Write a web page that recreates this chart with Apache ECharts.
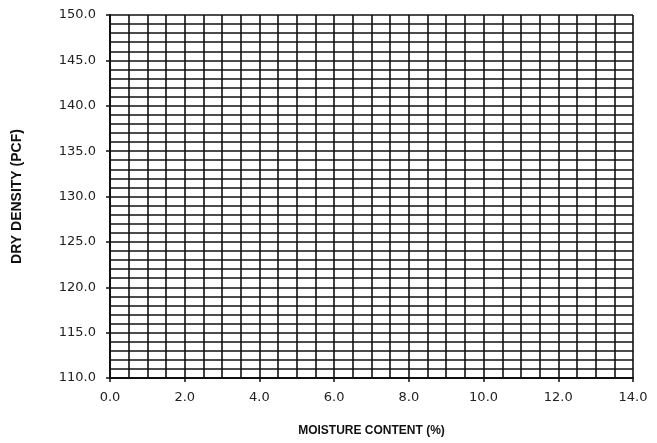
<!DOCTYPE html>
<html>
<head>
<meta charset="utf-8">
<script src="https://cdn.jsdelivr.net/npm/echarts@6/dist/echarts.min.js"></script>
<style>
  html, body { margin: 0; padding: 0; background: #fff; }
  #chart { width: 657px; height: 443px; }
</style>
</head>
<body>
<div id="chart"></div>
<script>
// axis ranges (blank compaction grid, no points plotted)
const moistureRange = [0, 14];      // %
const moistureStep = 2;             // labelled every 2.0, grid every 0.5
const densityRange = [110, 150];    // pcf
const densityStep = 5;              // labelled every 5.0, grid every 1.0
const testPoints = [];              // no data on the form

const chart = echarts.init(document.getElementById('chart'));
const ink = '#111';
const gridLine = { show: true, lineStyle: { color: ink, width: 1.6 } };
const boldName = { fontFamily: '"Liberation Sans", sans-serif', fontWeight: 'bold', color: ink };
const tickText = { formatter: v => v.toFixed(1), fontFamily: 'DejaVu Sans', fontSize: 13, color: '#222' };

chart.setOption({
  animation: false,
  grid: { left: 110, right: 24, top: 15, bottom: 65 },
  xAxis: {
    type: 'value',
    min: moistureRange[0],
    max: moistureRange[1],
    interval: moistureStep,
    name: 'MOISTURE CONTENT (%)',
    nameLocation: 'middle',
    nameGap: 47,
    nameTextStyle: Object.assign({ fontSize: 12 }, boldName),
    axisLine: { lineStyle: { color: ink, width: 2 } },
    axisTick: { show: true, length: 4, lineStyle: { color: ink, width: 1.5 } },
    axisLabel: Object.assign({ margin: 13 }, tickText),
    splitLine: gridLine,
    minorTick: { show: false, splitNumber: 4 },
    minorSplitLine: gridLine
  },
  yAxis: {
    type: 'value',
    min: densityRange[0],
    max: densityRange[1],
    interval: densityStep,
    name: 'DRY DENSITY (PCF)',
    nameLocation: 'middle',
    nameRotate: 90,
    nameGap: 86,
    nameTextStyle: Object.assign({ fontSize: 14 }, boldName),
    axisLine: { show: true, lineStyle: { color: ink, width: 2 } },
    axisTick: { show: true, length: 4, lineStyle: { color: ink, width: 1.5 } },
    axisLabel: Object.assign({ margin: 14 }, tickText),
    splitLine: gridLine,
    minorTick: { show: false, splitNumber: 5 },
    minorSplitLine: gridLine
  },
  series: [{ type: 'scatter', data: testPoints }]
});
</script>
</body>
</html>
